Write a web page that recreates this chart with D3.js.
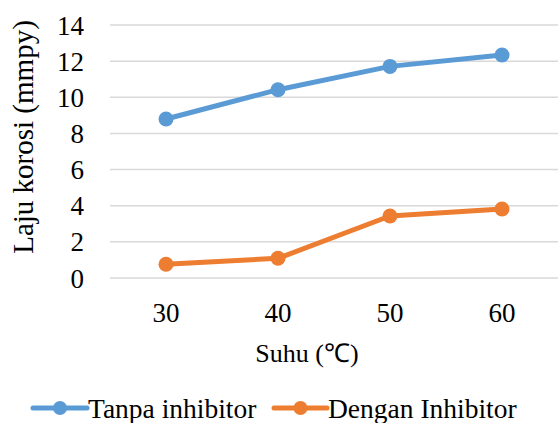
<!DOCTYPE html>
<html>
<head>
<meta charset="utf-8">
<script src="https://cdn.jsdelivr.net/npm/d3@7"></script>
<style>
    body { margin: 0; background: #fff; }
    text { font-family: "Liberation Serif", "Times New Roman", serif; fill: #000; }
</style>
</head>
<body>
<svg id="chart" width="559" height="423"></svg>
<script>
// data
var categories = ["30", "40", "50", "60"];
var tanpaInhibitor = [8.8, 10.42, 11.71, 12.34];
var denganInhibitor = [0.76, 1.09, 3.43, 3.82];
var yTicks = [0, 2, 4, 6, 8, 10, 12, 14];
var seriesNames = ["Tanpa inhibitor", "Dengan Inhibitor"];
var seriesColors = ["#5B9BD5", "#ED7D31"];

var svg = d3.select("#chart");
var plotLeft = 110, plotRight = 558, plotTop = 25, plotBottom = 278;

var x = d3.scaleBand().domain(categories).range([plotLeft, plotRight]);
var y = d3.scaleLinear().domain([0, 14]).range([plotBottom, plotTop]);

// gridlines
svg.append("g").selectAll("line").data(yTicks).enter().append("line")
    .attr("x1", plotLeft).attr("x2", plotRight)
    .attr("y1", function(d) { return y(d); })
    .attr("y2", function(d) { return y(d); })
    .attr("stroke", "#D9D9D9")
    .attr("stroke-width", 1.5);

// y tick labels
svg.append("g").selectAll("text").data(yTicks).enter().append("text")
    .attr("x", 84)
    .attr("y", function(d) { return y(d) + 9.5; })
    .attr("text-anchor", "end")
    .style("font-size", "27px")
    .text(function(d) { return d; });

// x tick labels
svg.append("g").selectAll("text").data(categories).enter().append("text")
    .attr("x", function(d) { return x(d) + x.bandwidth() / 2; })
    .attr("y", 322)
    .attr("text-anchor", "middle")
    .style("font-size", "27px")
    .text(function(d) { return d; });

// axis titles
svg.append("text")
    .attr("x", 307).attr("y", 362)
    .attr("text-anchor", "middle")
    .style("font-size", "26px")
    .text("Suhu (\u2103)");

svg.append("text")
    .attr("transform", "translate(33,137) rotate(-90)")
    .attr("text-anchor", "middle")
    .style("font-size", "29px")
    .text("Laju korosi (mmpy)");

// lines
var line = d3.line()
    .x(function(d, i) { return x(categories[i]) + x.bandwidth() / 2; })
    .y(function(d) { return y(d); });

[tanpaInhibitor, denganInhibitor].forEach(function(vals, s) {
    svg.append("path")
        .datum(vals)
        .attr("d", line)
        .attr("fill", "none")
        .attr("stroke", seriesColors[s])
        .attr("stroke-width", 5)
        .attr("stroke-linejoin", "round")
        .attr("stroke-linecap", "round");
    svg.append("g").selectAll("circle").data(vals).enter().append("circle")
        .attr("cx", function(d, i) { return x(categories[i]) + x.bandwidth() / 2; })
        .attr("cy", function(d) { return y(d); })
        .attr("r", 7.5)
        .attr("fill", seriesColors[s]);
});

// legend
var legendItems = [{x0: 33, x1: 87, tx: 88}, {x0: 274, x1: 327, tx: 328}];
legendItems.forEach(function(it, s) {
    var g = svg.append("g");
    g.append("line")
        .attr("x1", it.x0).attr("x2", it.x1)
        .attr("y1", 408).attr("y2", 408)
        .attr("stroke", seriesColors[s])
        .attr("stroke-width", 5)
        .attr("stroke-linecap", "round");
    g.append("circle")
        .attr("cx", (it.x0 + it.x1) / 2).attr("cy", 408)
        .attr("r", 7)
        .attr("fill", seriesColors[s]);
    g.append("text")
        .attr("x", it.tx).attr("y", 418)
        .style("font-size", "27.5px")
        .text(seriesNames[s]);
});
</script>
</body>
</html>
